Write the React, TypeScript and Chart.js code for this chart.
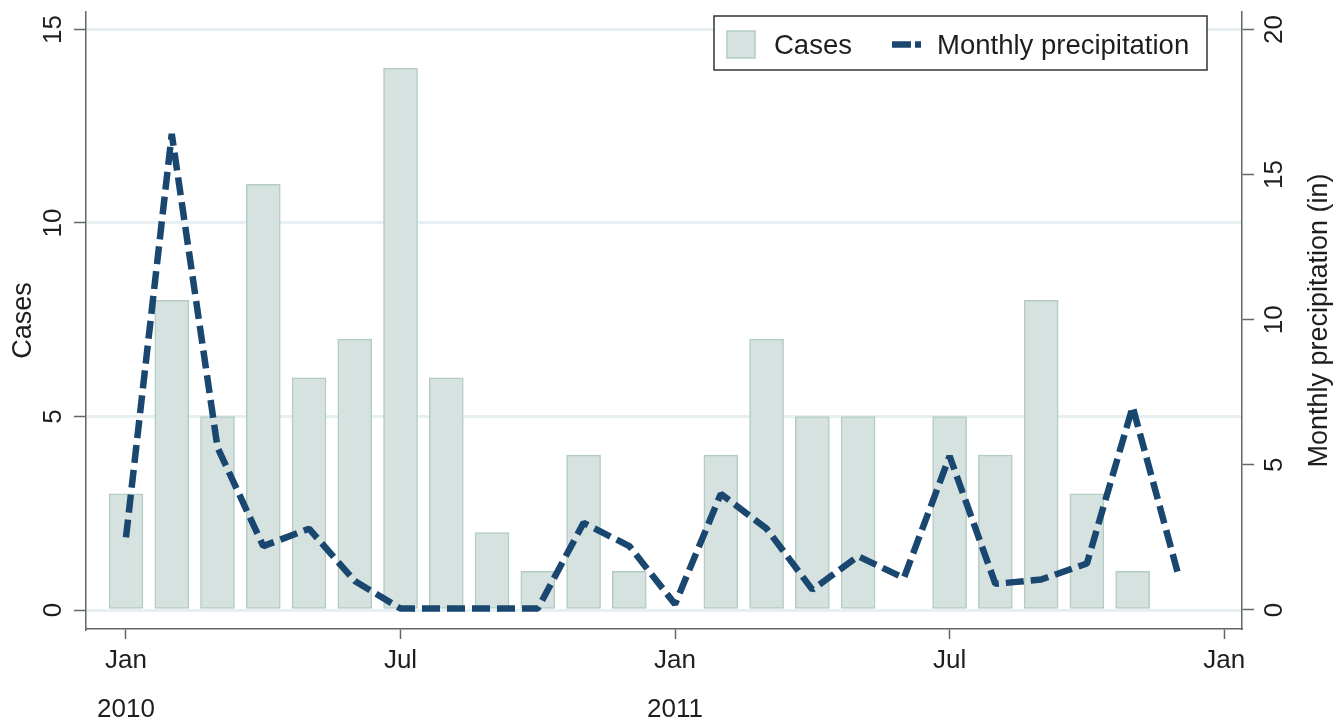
import React, { useEffect, useRef } from "react";
import { Chart, registerables } from "chart.js";

Chart.register(...registerables);

// ---- data ----
const months = [
  "2010-01", "2010-02", "2010-03", "2010-04", "2010-05", "2010-06",
  "2010-07", "2010-08", "2010-09", "2010-10", "2010-11", "2010-12",
  "2011-01", "2011-02", "2011-03", "2011-04", "2011-05", "2011-06",
  "2011-07", "2011-08", "2011-09", "2011-10", "2011-11", "2011-12",
];
const cases: (number | null)[] = [
  3, 8, 5, 11, 6, 7, 14, 6, 2, 1, 4, 1,
  null, 4, 7, 5, 5, null, 5, 4, 8, 3, 1, null,
];
const precipitation = [
  2.5, 16.4, 5.6, 2.2, 2.8, 1.0, 0.05, 0.05, 0.05, 0.05, 3.0, 2.2,
  0.2, 4.0, 2.8, 0.7, 1.85, 1.1, 5.3, 0.9, 1.05, 1.6, 7.0, 1.2,
];
const xTickMonths = [0, 6, 12, 18, 24];
const xTickLabels = [["Jan", "2010"], ["Jul", ""], ["Jan", "2011"], ["Jul", ""], ["Jan", ""]];
const casesTicks = [0, 5, 10, 15];
const precipTicks = [0, 5, 10, 15, 20];
const seriesLabels = ["Cases", "Monthly precipitation"];
const axisTitles = ["Cases", "Monthly precipitation (in)"];

const FONT = '"Liberation Sans", Arial, Helvetica, sans-serif';
const TEXT = "#1e1e1e";
const AXIS = "#666666";
const GRID = "#e6eff1";
const BAR_FILL = "#d5e2df";
const BAR_BORDER = "#b3cdc5";
const LINE = "#1a476f";

const monthIndex = (m: string) => {
  const [y, mo] = m.split("-").map(Number);
  return (y - 2010) * 12 + (mo - 1);
};

const zeroPad = (s: any) => {
  s.paddingTop = 0;
  s.paddingBottom = 0;
  s.paddingLeft = 0;
  s.paddingRight = 0;
};

const overlayPlugin = {
  id: "overlay",
  afterDraw(chart: any) {
    const ctx = chart.ctx as CanvasRenderingContext2D;
    const lineDs = chart.data.datasets[0];
    const barDs = chart.data.datasets[1];
    ctx.save();
    // legend box
    const bx = 714, by = 16, bw = 493, bh = 54;
    ctx.fillStyle = "#ffffff";
    ctx.fillRect(bx, by, bw, bh);
    ctx.strokeStyle = "#333333";
    ctx.lineWidth = 1.5;
    ctx.strokeRect(bx, by, bw, bh);
    // bar swatch
    ctx.fillStyle = barDs.backgroundColor;
    ctx.fillRect(727, 31, 28, 27);
    ctx.strokeStyle = barDs.borderColor;
    ctx.lineWidth = 1.5;
    ctx.strokeRect(727, 31, 28, 27);
    ctx.font = `27.5px ${FONT}`;
    ctx.fillStyle = TEXT;
    ctx.textAlign = "left";
    ctx.textBaseline = "middle";
    ctx.fillText(barDs.label, 774, 46);
    // line swatch
    ctx.strokeStyle = lineDs.borderColor;
    ctx.lineWidth = 6.5;
    ctx.setLineDash([19, 4]);
    ctx.beginPath();
    ctx.moveTo(892, 44.5);
    ctx.lineTo(921, 44.5);
    ctx.stroke();
    ctx.setLineDash([]);
    ctx.fillText(lineDs.label, 937, 46);
    // right axis title (reads bottom-to-top)
    const area = chart.chartArea;
    ctx.font = `27px ${FONT}`;
    ctx.translate(1320, (area.top + area.bottom) / 2);
    ctx.rotate(-Math.PI / 2);
    ctx.textAlign = "center";
    ctx.textBaseline = "middle";
    ctx.fillText(axisTitles[1], 0, 0);
    ctx.restore();
  },
};

export default function App() {
  const ref = useRef<HTMLCanvasElement | null>(null);

  useEffect(() => {
    document.body.style.margin = "0";
    const canvas = ref.current!;
    const xs = months.map(monthIndex);
    const barData = xs
      .map((x, i) => ({ x, y: cases[i] }))
      .filter((d) => d.y !== null);
    const lineData = xs.map((x, i) => ({ x, y: precipitation[i] }));

    const chart = new Chart(canvas, {
      type: "bar",
      data: {
        datasets: [
          {
            type: "line",
            label: seriesLabels[1],
            data: lineData as any,
            yAxisID: "y2",
            borderColor: LINE,
            backgroundColor: LINE,
            borderWidth: 6.5,
            borderDash: [18, 7],
            borderCapStyle: "butt",
            borderJoinStyle: "bevel",
            pointRadius: 0,
            tension: 0,
            fill: false,
            order: 0,
          } as any,
          {
            type: "bar",
            label: seriesLabels[0],
            data: barData as any,
            yAxisID: "y",
            backgroundColor: BAR_FILL,
            borderColor: BAR_BORDER,
            borderWidth: 1.5,
            borderSkipped: false,
            barThickness: 34,
            order: 1,
          } as any,
        ],
      },
      options: {
        responsive: false,
        animation: false,
        devicePixelRatio: 1,
        layout: { padding: { top: 12, left: 0, right: 0, bottom: 0 } },
        plugins: {
          legend: { display: false },
          tooltip: { enabled: false },
          title: { display: false },
        },
        scales: {
          x: {
            type: "linear",
            offset: false,
            min: -0.874,
            max: 24.39,
            afterBuildTicks: (s: any) => {
              s.ticks = xTickMonths.map((v) => ({ value: v }));
            },
            afterFit: (s: any) => {
              s.height = 94;
              zeroPad(s);
            },
            ticks: {
              autoSkip: false,
              maxRotation: 0,
              minRotation: 0,
              padding: -3,
              color: TEXT,
              font: { family: FONT, size: 26, lineHeight: 1.9 },
              callback: (v: any) => {
                const i = xTickMonths.indexOf(Number(v));
                return i >= 0 ? xTickLabels[i] : "";
              },
            },
            grid: {
              offset: false,
              drawOnChartArea: false,
              drawTicks: true,
              tickLength: 10,
              tickColor: AXIS,
              tickWidth: 1.5,
            },
            border: { display: true, color: AXIS, width: 1.5 },
          },
          y: {
            type: "linear",
            position: "left",
            min: -0.49,
            max: 15.45,
            afterBuildTicks: (s: any) => {
              s.ticks = casesTicks.map((v) => ({ value: v }));
            },
            afterFit: (s: any) => {
              s.width = 86;
              zeroPad(s);
            },
            ticks: {
              minRotation: 90,
              maxRotation: 90,
              crossAlign: "center",
              padding: 6,
              color: TEXT,
              font: { family: FONT, size: 26 },
            },
            grid: {
              color: GRID,
              lineWidth: 3,
              drawTicks: true,
              tickLength: 12,
              tickColor: AXIS,
              tickWidth: 1.5,
            },
            border: { display: true, color: AXIS, width: 1.5 },
            title: {
              display: true,
              text: axisTitles[0],
              color: TEXT,
              font: { family: FONT, size: 27, lineHeight: 1.2 },
              padding: { top: 7, bottom: 0 },
            },
          },
          y2: {
            type: "linear",
            position: "right",
            min: -0.655,
            max: 20.6,
            afterBuildTicks: (s: any) => {
              s.ticks = precipTicks.map((v) => ({ value: v }));
            },
            afterFit: (s: any) => {
              s.width = 99;
              zeroPad(s);
            },
            ticks: {
              minRotation: 90,
              maxRotation: 90,
              crossAlign: "center",
              padding: 6,
              color: TEXT,
              font: { family: FONT, size: 26 },
            },
            grid: {
              drawOnChartArea: false,
              drawTicks: true,
              tickLength: 12,
              tickColor: AXIS,
              tickWidth: 1.5,
            },
            border: { display: true, color: AXIS, width: 1.5 },
          },
        },
      },
      plugins: [overlayPlugin],
    });
    return () => chart.destroy();
  }, []);

  return (
    <div style={{ width: 1341, height: 723, background: "#ffffff" }}>
      <canvas ref={ref} width={1341} height={723} style={{ display: "block" }} />
    </div>
  );
}
